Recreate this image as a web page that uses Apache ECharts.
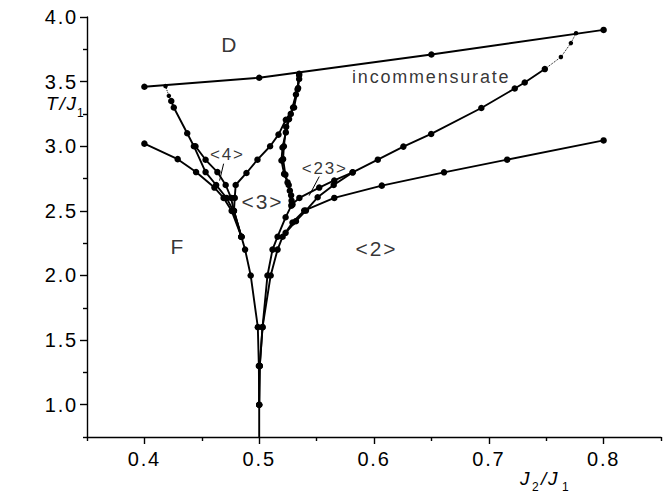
<!DOCTYPE html>
<html><head><meta charset="utf-8">
<script src="https://cdn.jsdelivr.net/npm/echarts@6/dist/echarts.min.js"></script>
<style>
html,body{margin:0;padding:0;background:#fff;}
#c{width:670px;height:493px;}
#c text{letter-spacing:1.8px;}
</style></head><body><div id="c"></div>
<script>
// axis ticks
const xMajor = [0.4, 0.5, 0.6, 0.7, 0.8];
const xMinor = [0.35, 0.45, 0.55, 0.65, 0.75, 0.85];
const yMajor = [1.0, 1.5, 2.0, 2.5, 3.0, 3.5, 4.0];
const yMinor = [0.75, 1.25, 1.75, 2.25, 2.75, 3.25, 3.75];

// phase boundaries  [J2/J1, T/J1]
const topLine = [[0.40,3.46],[0.50,3.53],[0.65,3.71],[0.80,3.90]];
const fLine = [[0.400,3.02],[0.429,2.90],[0.445,2.80],[0.461,2.68],[0.469,2.60],[0.476,2.50],[0.4845,2.30],[0.4877,2.20],[0.4926,2.00],[0.4988,1.60],[0.4997,1.30],[0.500,1.00],[0.500,0.75]];
const upper4Dotted = [[0.4184,3.465],[0.4213,3.39],[0.4234,3.35]];
const upper4 = [[0.4234,3.35],[0.4256,3.30],[0.4373,3.10],[0.4431,3.00],[0.4533,2.80],[0.4625,2.70],[0.4715,2.60],[0.4775,2.50],[0.4845,2.30]];
const mid4 = [[0.4445,3.00],[0.4533,2.895],[0.4636,2.80],[0.4708,2.70],[0.4755,2.60],[0.4780,2.50],[0.4845,2.30]];
const vLeft = [[0.5348,3.55],[0.5334,3.44],[0.5304,3.30],[0.5232,3.205],[0.5168,3.09],[0.5095,3.00],[0.4985,2.896],[0.4889,2.793],[0.4795,2.70],[0.4787,2.60],[0.4780,2.50],[0.4845,2.30]];
const vRight = [[0.5348,3.56],[0.5339,3.45],[0.5295,3.30],[0.5260,3.21],[0.5232,3.107],[0.5203,2.99],[0.5194,2.89],[0.5217,2.786],[0.5247,2.72],[0.5267,2.656],[0.5282,2.579],[0.5280,2.54],[0.5230,2.45],[0.5160,2.30],[0.5116,2.20],[0.5072,2.00],[0.5029,1.60],[0.5005,1.30],[0.500,1.00]];
const vRight2 = [[0.5348,3.52],[0.5320,3.40],[0.5275,3.25],[0.5235,3.15],[0.5215,3.00],[0.5208,2.90],[0.5228,2.78],[0.5257,2.70],[0.5278,2.62],[0.5290,2.55]];
const lowRight = [[0.800,3.045],[0.716,2.896],[0.661,2.798],[0.6068,2.695],[0.5654,2.60],[0.5392,2.502],[0.5290,2.41],[0.5204,2.30],[0.5160,2.20],[0.5100,2.00],[0.5029,1.60],[0.5005,1.30],[0.500,1.00]];
const incDotted = [[0.776,3.875],[0.7715,3.798],[0.7628,3.69],[0.7488,3.597]];
const incLine = [[0.7488,3.597],[0.7313,3.493],[0.7226,3.447],[0.6935,3.296],[0.6498,3.095],[0.6256,2.997],[0.6033,2.896],[0.5814,2.798],[0.5654,2.735],[0.5523,2.68],[0.5350,2.60],[0.5285,2.55]];
const mid23 = [[0.5814,2.798],[0.5649,2.70],[0.5509,2.605],[0.5407,2.502],[0.5320,2.42],[0.5230,2.33]];
const pointer4 = [[0.4690,2.865],[0.4655,2.734]];
const pointer23 = [[0.5523,2.765],[0.5435,2.618]];

// region labels [x, y, text]
const bigLabels = [[0.4744,3.79,'D'],[0.4291,2.224,'F'],[0.6021,2.212,'<2>'],[0.5028,2.571,'<3>']];
const smallLabels = [[0.4723,2.935,'<4>'],[0.5571,2.826,'<23>']];
const incLabel = [[0.6498,3.537,'incommensurate']];

const FONT = 'Liberation Sans';
const chart = echarts.init(document.getElementById('c'), null, {renderer:'svg'});

function pts(arr, size){
  return arr.map(p => ({value:p, symbolSize: p[1] <= 0.75 ? 0 : size}));
}
function solid(arr){
  return {type:'line', data:pts(arr,6.5), symbol:'circle', showSymbol:true, animation:false,
    lineStyle:{color:'#000', width:1.9}, itemStyle:{color:'#000'}, silent:true, z:3};
}
function dotted(arr){
  return {type:'line', data:pts(arr,4.5), symbol:'circle', animation:false,
    lineStyle:{color:'#000', width:1, type:'dotted'}, itemStyle:{color:'#000'}, silent:true, z:3};
}
function thin(arr){
  return {type:'line', data:arr, symbol:'none', animation:false,
    lineStyle:{color:'#000', width:1}, silent:true, z:3};
}
function labels(arr, size){
  return {type:'scatter', data:arr, symbolSize:0, animation:false, silent:true, z:5,
    label:{show:true, position:'inside', formatter:p=>p.data[2], color:'#000',
      fontFamily:FONT, fontSize:size}};
}

const axLine = {show:true, lineStyle:{color:'#000', width:1.4}};
chart.setOption({
  backgroundColor:'#fff',
  grid:{left:87, right:9, top:17, bottom:56},
  xAxis:[
    {type:'value', min:0.35, max:0.85, axisLine:axLine, splitLine:{show:false},
     axisTick:{show:true, customValues:xMajor, length:7, inside:false, lineStyle:{color:'#000', width:1.4}},
     axisLabel:{customValues:xMajor, formatter:v=>v.toFixed(1), color:'#000', fontFamily:FONT, fontSize:20, margin:12}},
    {type:'value', min:0.35, max:0.85, position:'bottom', axisLine:{show:false}, splitLine:{show:false},
     axisTick:{show:true, customValues:xMinor, length:4, lineStyle:{color:'#000', width:1.4}},
     axisLabel:{show:false}}
  ],
  yAxis:[
    {type:'value', min:0.75, max:4.0, axisLine:axLine, splitLine:{show:false},
     axisTick:{show:true, customValues:yMajor, length:7, lineStyle:{color:'#000', width:1.4}},
     axisLabel:{customValues:yMajor, formatter:v=>v.toFixed(1), color:'#000', fontFamily:FONT, fontSize:20, margin:9}},
    {type:'value', min:0.75, max:4.0, position:'left', axisLine:{show:false}, splitLine:{show:false},
     axisTick:{show:true, customValues:yMinor, length:4, lineStyle:{color:'#000', width:1.4}},
     axisLabel:{show:false}}
  ],
  graphic:[
    {type:'text', left:46, top:94, style:{text:'T/J', font:'italic 19px "Liberation Sans"', fill:'#000'}},
    {type:'text', left:77, top:107, style:{text:'1', font:'12px "Liberation Sans"', fill:'#000'}},
    {type:'text', left:520, top:469, style:{text:'J', font:'italic 19px "Liberation Sans"', fill:'#000'}},
    {type:'text', left:532, top:481, style:{text:'2', font:'12px "Liberation Sans"', fill:'#000'}},
    {type:'text', left:541, top:469, style:{text:'/J', font:'italic 19px "Liberation Sans"', fill:'#000'}},
    {type:'text', left:562, top:481, style:{text:'1', font:'12px "Liberation Sans"', fill:'#000'}}
  ],
  series:[
    solid(topLine), solid(fLine), dotted(upper4Dotted), solid(upper4), solid(mid4),
    solid(vLeft), solid(vRight), solid(vRight2), solid(lowRight), dotted(incDotted),
    solid(incLine), solid(mid23), thin(pointer4), thin(pointer23),
    labels(bigLabels, 21), labels(smallLabels, 17), labels(incLabel, 18)
  ]
});
</script></body></html>
